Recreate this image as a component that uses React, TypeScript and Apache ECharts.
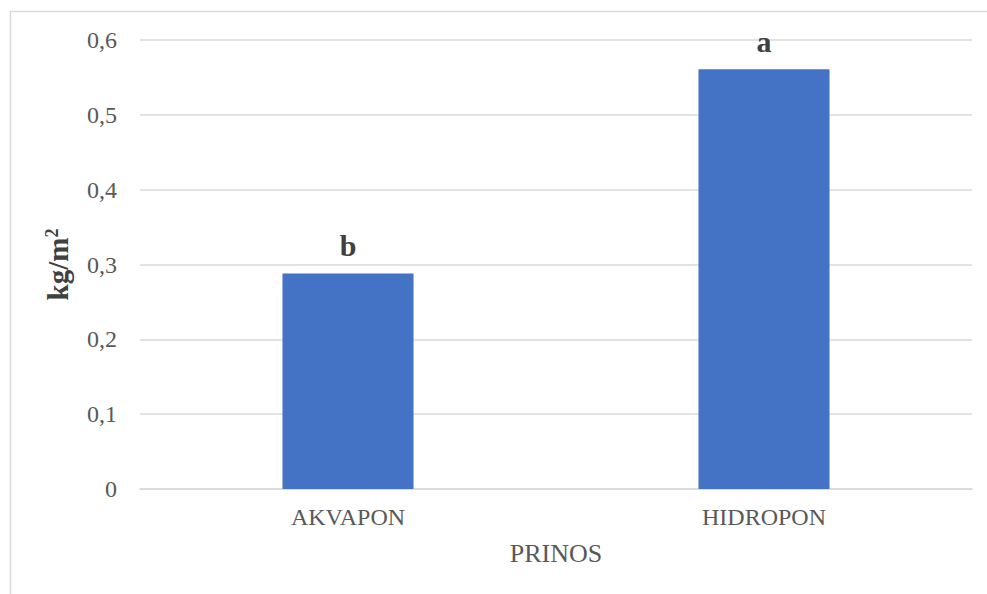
import React, { useEffect, useRef } from "react";
import * as echarts from "echarts";

const categories = ["AKVAPON", "HIDROPON"];
const values = [0.288, 0.561];
const letters = ["b", "a"];
const yTicks = [0, 0.1, 0.2, 0.3, 0.4, 0.5, 0.6];

export default function App() {
  const ref = useRef<HTMLDivElement>(null);
  useEffect(() => {
    if (!ref.current) return;
    const chart = echarts.init(ref.current, null, { renderer: "svg" });
    const font = "Liberation Serif";
    chart.setOption({
      animation: false,
      backgroundColor: "#ffffff",
      textStyle: { fontFamily: font },
      graphic: [
        {
          type: "rect",
          shape: { x: 10.5, y: 11.5, width: 1200, height: 800 },
          style: { fill: "none", stroke: "#d9d9d9", lineWidth: 1.5 },
          silent: true,
        },
      ],
      grid: { left: 140, right: 15, top: 40, bottom: 105, containLabel: false },
      xAxis: {
        type: "category",
        data: categories,
        name: "PRINOS",
        nameLocation: "middle",
        nameGap: 51,
        nameTextStyle: { fontFamily: font, fontSize: 26, color: "#595959" },
        axisLine: { show: true, lineStyle: { color: "#d9d9d9", width: 1.5 } },
        axisTick: { show: false },
        axisLabel: { fontFamily: font, fontSize: 24, color: "#595959", margin: 16 },
      },
      yAxis: {
        type: "value",
        min: 0,
        max: 0.6,
        interval: 0.1,
        name: "{a|kg/m}{s|2}",
        nameLocation: "middle",
        nameGap: 67,
        nameRotate: 90,
        nameTextStyle: {
          fontFamily: font,
          fontSize: 29,
          fontWeight: "bold",
          color: "#404040",
          rich: {
            a: { fontFamily: font, fontSize: 29, fontWeight: "bold", color: "#404040" },
            s: { fontFamily: font, fontSize: 18, fontWeight: "bold", color: "#404040", verticalAlign: "top", padding: [0, 0, 12, 0] },
          },
        },
        axisLine: { show: false },
        axisTick: { show: false },
        splitLine: { lineStyle: { color: "#d9d9d9", width: 1.5 } },
        axisLabel: {
          fontFamily: font,
          fontSize: 24,
          color: "#595959",
          margin: 23,
          formatter: (v: number) => {
            const t = yTicks.find((x) => Math.abs(x - v) < 1e-9);
            const n = t === undefined ? v : t;
            return n === 0 ? "0" : n.toFixed(1).replace(".", ",");
          },
        },
      },
      series: [
        {
          type: "bar",
          data: values,
          barWidth: "31.5%",
          itemStyle: { color: "#4472c4" },
          label: {
            show: true,
            position: "top",
            distance: 13,
            formatter: (p: any) => letters[p.dataIndex],
            fontFamily: font,
            fontSize: 30,
            fontWeight: "bold",
            color: "#404040",
          },
        },
      ],
    });
    return () => chart.dispose();
  }, []);
  return (
    <div
      ref={ref}
      style={{ position: "fixed", left: 0, top: 0, width: 987, height: 594 }}
    />
  );
}
